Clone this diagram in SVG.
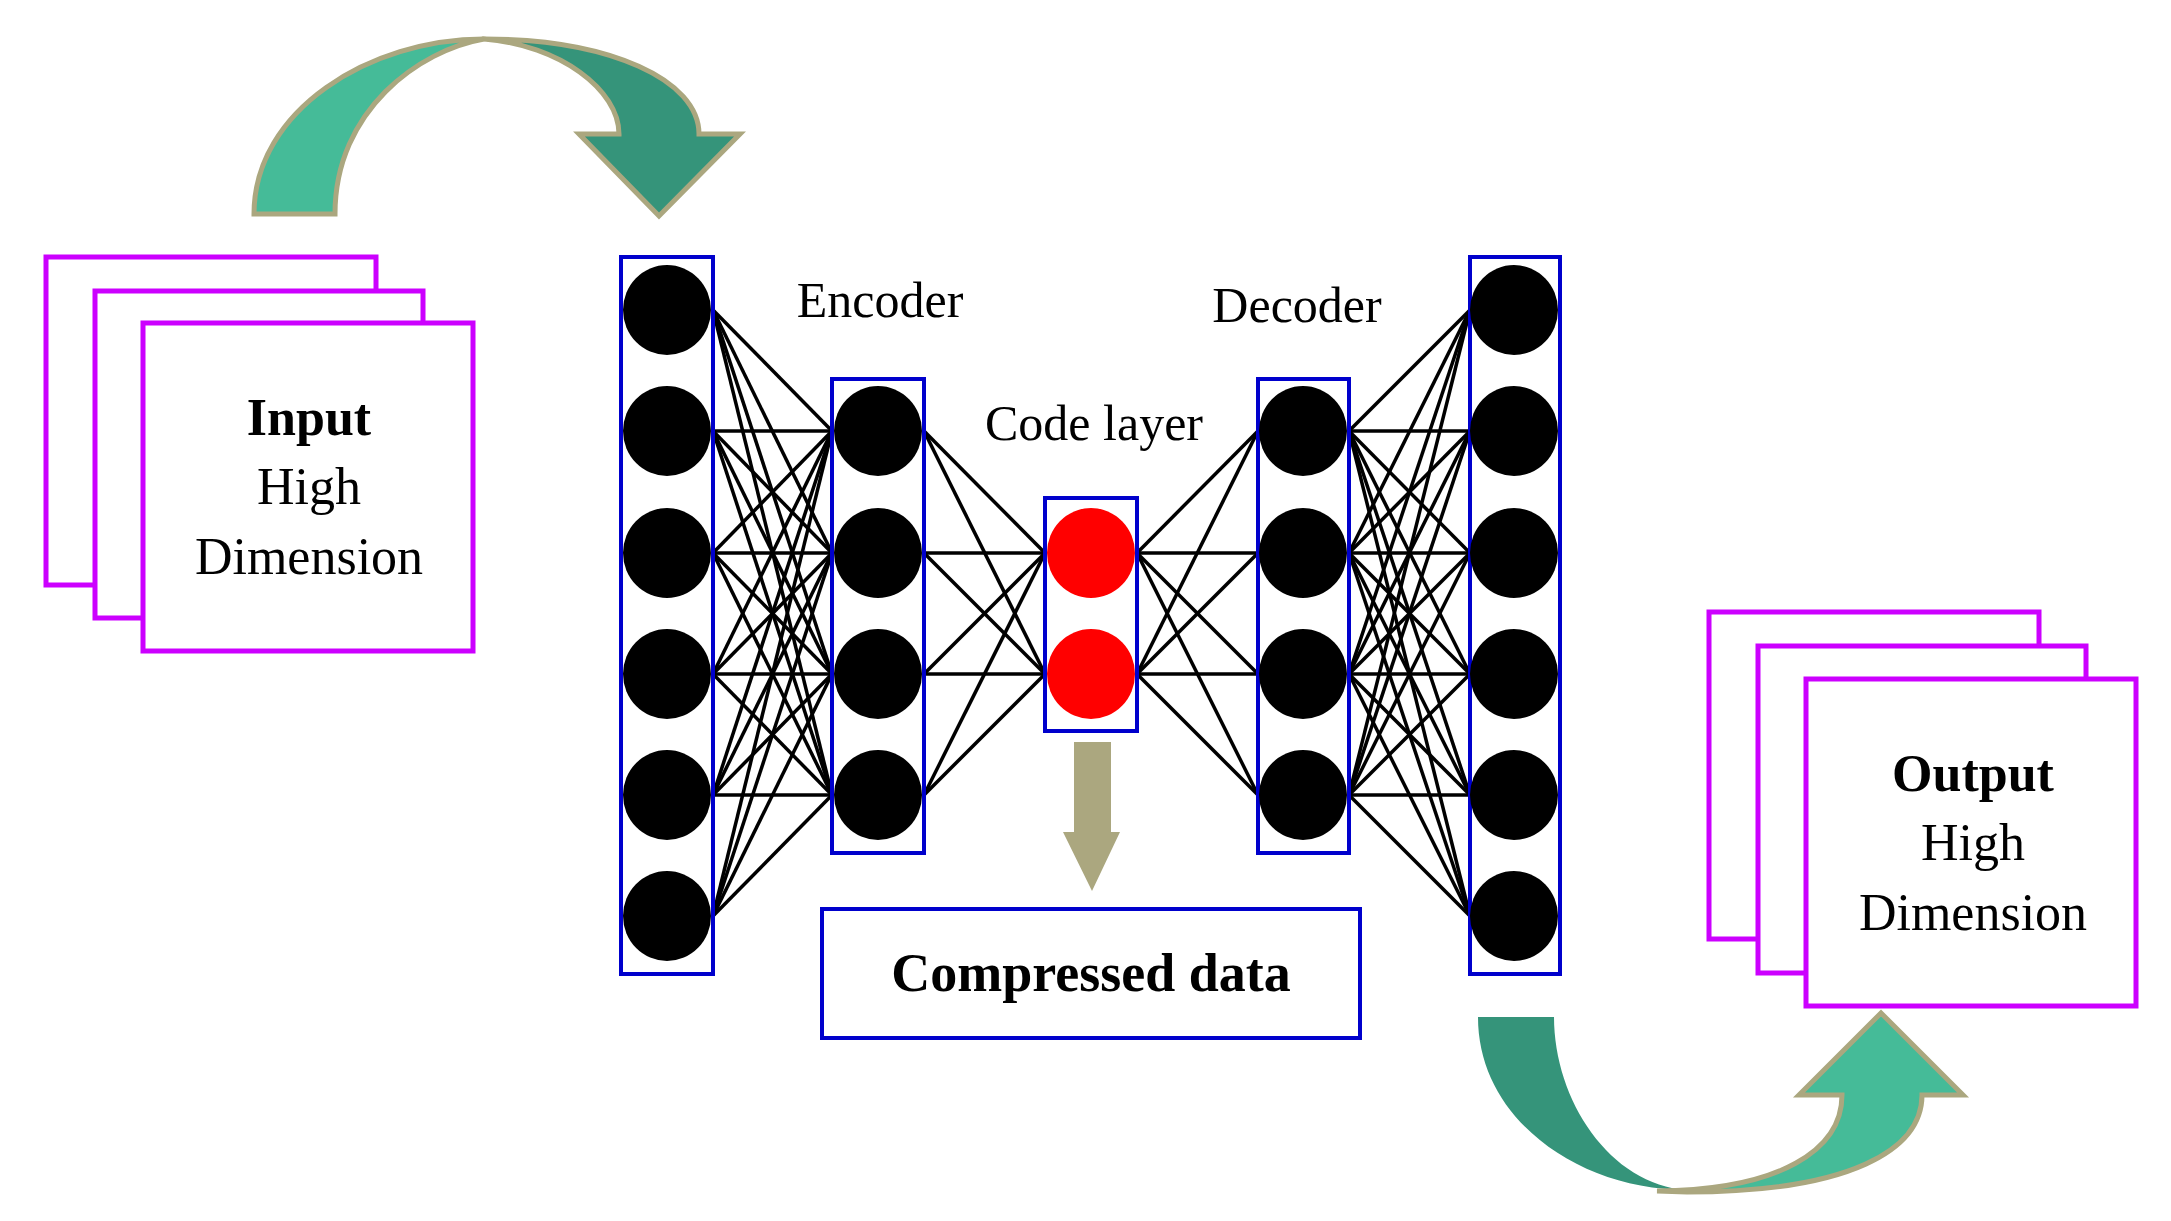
<svg xmlns="http://www.w3.org/2000/svg" width="2171" height="1221" viewBox="0 0 2171 1221">
<style>
.pg{fill:#fff;stroke:#cc00ff;stroke-width:5}
.col{fill:none;stroke:#0000cc;stroke-width:4}
.n{fill:#000}
.r{fill:#ff0000}
.t{font-family:"Liberation Serif",serif;fill:#000;text-anchor:middle}
.c line{stroke:#000;stroke-width:3.5}
</style>
<rect width="2171" height="1221" fill="#fff"/>
<g id="topArrow">
<path d="M254,214 C254,110 370,39 484,39 C420,50 335,110 335,214 Z" fill="#45bb98" stroke="#aba77f" stroke-width="5"/>
<path d="M484,39 C610,39 699,80 699,134 L740,134 L659,216 L579,134 L619,134 C619,90 560,45 484,39 Z" fill="#35947a" stroke="#aba77f" stroke-width="5"/>
</g>
<g id="input">
<rect class="pg" x="46" y="257" width="330" height="328"/>
<rect class="pg" x="95" y="291" width="328" height="327"/>
<rect class="pg" x="143" y="323" width="330" height="328"/>
<text class="t" x="309" y="435" font-size="52" font-weight="bold">Input</text>
<text class="t" x="309" y="504" font-size="52">High</text>
<text class="t" x="309" y="574" font-size="52">Dimension</text>
</g>
<g id="output">
<rect class="pg" x="1709" y="612" width="330" height="327"/>
<rect class="pg" x="1758" y="646" width="328" height="327"/>
<rect class="pg" x="1806" y="679" width="330" height="327"/>
<text class="t" x="1973" y="791" font-size="52" font-weight="bold">Output</text>
<text class="t" x="1973" y="860" font-size="52">High</text>
<text class="t" x="1973" y="930" font-size="52">Dimension</text>
</g>
<g id="connectors" class="c">
<!-- L1 -> L2 -->
<g>
<line x1="713" y1="310" x2="832" y2="431"/><line x1="713" y1="310" x2="832" y2="553"/><line x1="713" y1="310" x2="832" y2="674"/><line x1="713" y1="310" x2="832" y2="795"/>
<line x1="713" y1="431" x2="832" y2="431"/><line x1="713" y1="431" x2="832" y2="553"/><line x1="713" y1="431" x2="832" y2="674"/><line x1="713" y1="431" x2="832" y2="795"/>
<line x1="713" y1="553" x2="832" y2="431"/><line x1="713" y1="553" x2="832" y2="553"/><line x1="713" y1="553" x2="832" y2="674"/><line x1="713" y1="553" x2="832" y2="795"/>
<line x1="713" y1="674" x2="832" y2="431"/><line x1="713" y1="674" x2="832" y2="553"/><line x1="713" y1="674" x2="832" y2="674"/><line x1="713" y1="674" x2="832" y2="795"/>
<line x1="713" y1="795" x2="832" y2="431"/><line x1="713" y1="795" x2="832" y2="553"/><line x1="713" y1="795" x2="832" y2="674"/><line x1="713" y1="795" x2="832" y2="795"/>
<line x1="713" y1="916" x2="832" y2="431"/><line x1="713" y1="916" x2="832" y2="553"/><line x1="713" y1="916" x2="832" y2="674"/><line x1="713" y1="916" x2="832" y2="795"/>
</g>
<!-- L2 -> code -->
<g>
<line x1="924" y1="431" x2="1045" y2="553"/><line x1="924" y1="431" x2="1045" y2="674"/>
<line x1="924" y1="553" x2="1045" y2="553"/><line x1="924" y1="553" x2="1045" y2="674"/>
<line x1="924" y1="674" x2="1045" y2="553"/><line x1="924" y1="674" x2="1045" y2="674"/>
<line x1="924" y1="795" x2="1045" y2="553"/><line x1="924" y1="795" x2="1045" y2="674"/>
</g>
<!-- code -> L4 -->
<g>
<line x1="1137" y1="553" x2="1258" y2="431"/><line x1="1137" y1="553" x2="1258" y2="553"/><line x1="1137" y1="553" x2="1258" y2="674"/><line x1="1137" y1="553" x2="1258" y2="795"/>
<line x1="1137" y1="674" x2="1258" y2="431"/><line x1="1137" y1="674" x2="1258" y2="553"/><line x1="1137" y1="674" x2="1258" y2="674"/><line x1="1137" y1="674" x2="1258" y2="795"/>
</g>
<!-- L4 -> L5 -->
<g>
<line x1="1349" y1="431" x2="1470" y2="310"/><line x1="1349" y1="431" x2="1470" y2="431"/><line x1="1349" y1="431" x2="1470" y2="553"/><line x1="1349" y1="431" x2="1470" y2="674"/><line x1="1349" y1="431" x2="1470" y2="795"/><line x1="1349" y1="431" x2="1470" y2="916"/>
<line x1="1349" y1="553" x2="1470" y2="310"/><line x1="1349" y1="553" x2="1470" y2="431"/><line x1="1349" y1="553" x2="1470" y2="553"/><line x1="1349" y1="553" x2="1470" y2="674"/><line x1="1349" y1="553" x2="1470" y2="795"/><line x1="1349" y1="553" x2="1470" y2="916"/>
<line x1="1349" y1="674" x2="1470" y2="310"/><line x1="1349" y1="674" x2="1470" y2="431"/><line x1="1349" y1="674" x2="1470" y2="553"/><line x1="1349" y1="674" x2="1470" y2="674"/><line x1="1349" y1="674" x2="1470" y2="795"/><line x1="1349" y1="674" x2="1470" y2="916"/>
<line x1="1349" y1="795" x2="1470" y2="310"/><line x1="1349" y1="795" x2="1470" y2="431"/><line x1="1349" y1="795" x2="1470" y2="553"/><line x1="1349" y1="795" x2="1470" y2="674"/><line x1="1349" y1="795" x2="1470" y2="795"/><line x1="1349" y1="795" x2="1470" y2="916"/>
</g>
</g>
<g id="layer1">
<rect class="col" x="621" y="257" width="92" height="717"/>
<ellipse class="n" cx="667" cy="310" rx="44" ry="45"/><ellipse class="n" cx="667" cy="431" rx="44" ry="45"/><ellipse class="n" cx="667" cy="553" rx="44" ry="45"/><ellipse class="n" cx="667" cy="674" rx="44" ry="45"/><ellipse class="n" cx="667" cy="795" rx="44" ry="45"/><ellipse class="n" cx="667" cy="916" rx="44" ry="45"/>
</g>
<g id="layer2">
<rect class="col" x="832" y="379" width="92" height="474"/>
<ellipse class="n" cx="878" cy="431" rx="44" ry="45"/><ellipse class="n" cx="878" cy="553" rx="44" ry="45"/><ellipse class="n" cx="878" cy="674" rx="44" ry="45"/><ellipse class="n" cx="878" cy="795" rx="44" ry="45"/>
</g>
<g id="codeLayer">
<rect class="col" x="1045" y="498" width="92" height="233"/>
<ellipse class="r" cx="1091" cy="553" rx="44" ry="45"/><ellipse class="r" cx="1091" cy="674" rx="44" ry="45"/>
</g>
<g id="layer4">
<rect class="col" x="1258" y="379" width="91" height="474"/>
<ellipse class="n" cx="1303" cy="431" rx="44" ry="45"/><ellipse class="n" cx="1303" cy="553" rx="44" ry="45"/><ellipse class="n" cx="1303" cy="674" rx="44" ry="45"/><ellipse class="n" cx="1303" cy="795" rx="44" ry="45"/>
</g>
<g id="layer5">
<rect class="col" x="1470" y="257" width="90" height="717"/>
<ellipse class="n" cx="1514" cy="310" rx="44" ry="45"/><ellipse class="n" cx="1514" cy="431" rx="44" ry="45"/><ellipse class="n" cx="1514" cy="553" rx="44" ry="45"/><ellipse class="n" cx="1514" cy="674" rx="44" ry="45"/><ellipse class="n" cx="1514" cy="795" rx="44" ry="45"/><ellipse class="n" cx="1514" cy="916" rx="44" ry="45"/>
</g>
<g id="labels">
<text class="t" x="880" y="317" font-size="50">Encoder</text>
<text class="t" x="1094" y="440" font-size="50">Code layer</text>
<text class="t" x="1297" y="322" font-size="50">Decoder</text>
</g>
<g id="downArrow">
<path d="M1074,742 L1111,742 L1111,832 L1120,832 L1092,891 L1063,832 L1074,832 Z" fill="#aba77f"/>
</g>
<g id="compressed">
<rect x="822" y="909" width="538" height="129" fill="#fff" stroke="#0000cc" stroke-width="4"/>
<text class="t" x="1091" y="991" font-size="54" font-weight="bold">Compressed data</text>
</g>
<g id="bottomArrow">
<path d="M1478,1017 L1554,1017 C1554,1100 1610,1185 1687,1190 C1580,1190 1478,1120 1478,1017 Z" fill="#35947a"/>
<path d="M1657,1191 C1780,1190 1842,1150 1842,1095 L1799,1095 L1881,1013 L1963,1095 L1922,1095 C1922,1150 1850,1192 1687,1192 Z" fill="#45bb98" stroke="#aba77f" stroke-width="5"/>
</g>
</svg>
